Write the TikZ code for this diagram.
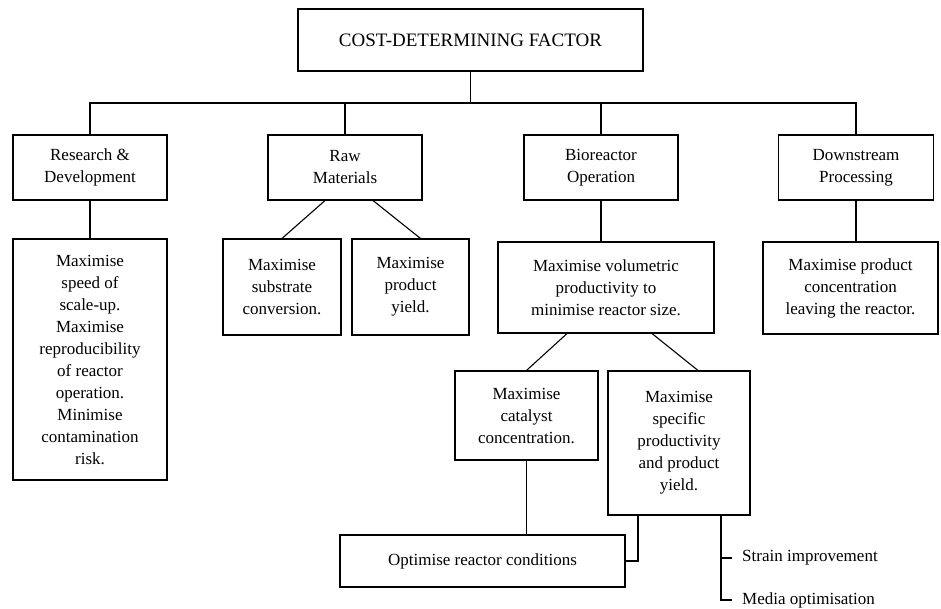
\documentclass[tikz,border=0pt]{standalone}
\usepackage{fontspec}
\setmainfont{Liberation Serif}
\usetikzlibrary{positioning}

\begin{document}
\begin{tikzpicture}[x=1pt, y=-1pt,
  box/.style={draw, line width=1.1pt, align=center, inner sep=2pt, font=\fontsize{17}{22}\selectfont},
  link/.style={line width=1.1pt},
  item/.style={anchor=west, inner xsep=10pt, inner ysep=2pt, font=\fontsize{17}{22}\selectfont}]
\useasboundingbox (0,0) rectangle (941,609);

% Top factor
\node[box, minimum width=345pt, minimum height=62pt, font=\fontsize{19}{22}\selectfont] (cost) at (470.5,40) {COST-DETERMINING FACTOR};

% Cost areas
\node[box, minimum width=154pt, minimum height=65pt] (rd) at (90,167.5) {Research \&\\Development};
\node[box, minimum width=154pt, minimum height=65pt] (raw) at (345,167.5) {Raw\\Materials};
\node[box, minimum width=154pt, minimum height=65pt] (bio) at (601,167.5) {Bioreactor\\Operation};
\node[box, minimum width=155pt, minimum height=65pt] (down) at (856,167.5) {Downstream\\Processing};

\coordinate (bus) at (470.5,103);
\draw[link] (cost.south) -- (bus);
\draw[link] (rd.north) |- (bus) -| (down.north);
\draw[link] (raw.north) -- (raw.north |- bus);
\draw[link] (bio.north) -- (bio.north |- bus);

% Aims of each area
\node[box, minimum width=154pt, minimum height=241pt] (rdaim) at (90,359.5) {Maximise\\speed of\\scale-up.\\Maximise\\reproducibility\\of reactor\\operation.\\Minimise\\contamination\\risk.};
\draw[link] (rd.south) -- (rdaim.north);

\node[box, minimum width=118pt, minimum height=96pt] (subst) at (282,287) {Maximise\\substrate\\conversion.};
\node[box, minimum width=117pt, minimum height=96pt] (yield) at (410.5,287) {Maximise\\product\\yield.};
\draw[link] ([xshift=-20pt]raw.south) -- (subst.north);
\draw[link] ([xshift=28pt]raw.south) -- ([xshift=10pt]yield.north);

\node[box, minimum width=216pt, minimum height=91pt] (vol) at (606,287.5) {Maximise volumetric\\productivity to\\minimise reactor size.};
\draw[link] (bio.south) -- (bio.south |- vol.north);

\node[box, minimum width=175pt, minimum height=92pt] (conc) at (850.5,288) {Maximise product\\concentration\\leaving the reactor.};
\draw[link] (down.south) -- (down.south |- conc.north);

% Bioreactor sub-aims
\node[box, minimum width=143pt, minimum height=89pt] (cat) at (526.5,415.5) {Maximise\\catalyst\\concentration.};
\node[box, minimum width=142pt, minimum height=144pt] (spec) at (679,443) {Maximise\\specific\\productivity\\and product\\yield.};
\draw[link] ([xshift=-39pt]vol.south) -- (cat.north);
\draw[link] ([xshift=46pt]vol.south) -- ([xshift=19pt]spec.north);

\node[box, minimum width=285pt, minimum height=52pt] (opt) at (482.5,561) {Optimise reactor conditions};
\draw[link] (cat.south) -- (cat.south |- opt.north);
\draw[link] ([xshift=-41pt]spec.south) |- (opt.east);

% Routes to specific productivity
\coordinate (route) at ([xshift=42pt]spec.south);
\node[item] (strain) at (732,558) {Strain improvement};
\node[item] (media) at (732,600) {Media optimisation};
\draw[link] (route) |- (media.west);
\draw[link] (route |- strain.west) -- (strain.west);
\end{tikzpicture}
\end{document}
